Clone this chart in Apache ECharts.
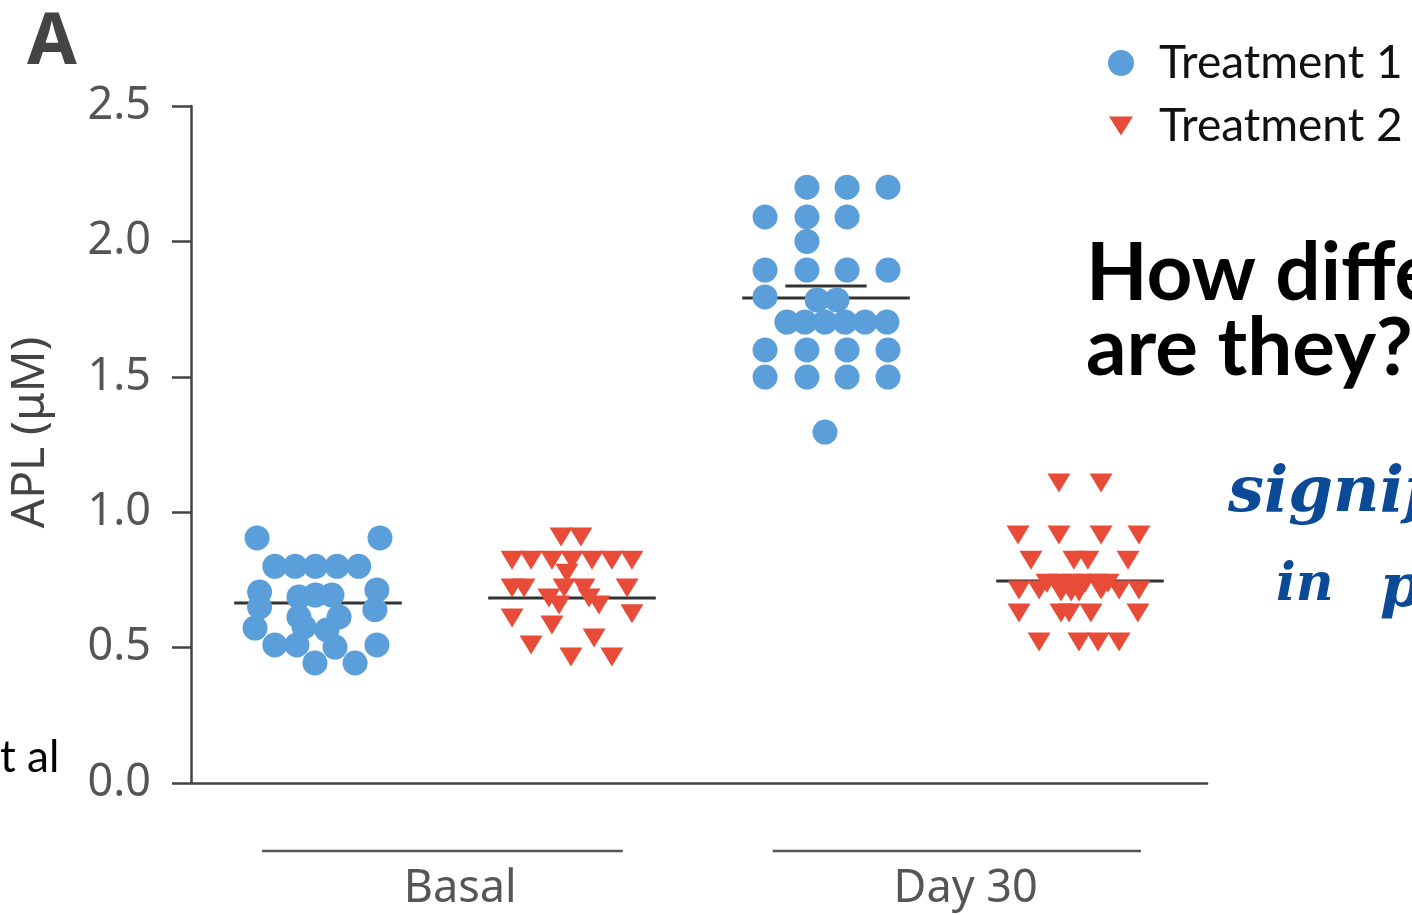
<!DOCTYPE html>
<html><head><meta charset="utf-8">
<script src="https://cdn.jsdelivr.net/npm/echarts@6/dist/echarts.min.js"></script>
<style>html,body{margin:0;padding:0;background:#fff}#c{width:1412px;height:915px}</style>
</head><body><div id="c"></div>
<script>
// ---- data ----
const groupNames = ['Basal', 'Day 30'];
const groupSpans = [[0.78, 2.20, 1.56], [2.79, 4.24, 3.55]];   // [from, to, label centre] on x scale
const xCategories = ['', '', '', ''];                          // tick positions 1..4
const yTickMin = 0, yTickMax = 2.5, yTickStep = 0.5;

const basalT1 = [[0.76,0.905],[1.244,0.905],[0.83,0.80],[0.91,0.80],[0.99,0.80],[1.075,0.80],[1.16,0.80],
  [0.77,0.705],[0.77,0.65],[0.925,0.687],[0.99,0.694],[1.055,0.694],[0.925,0.613],[1.083,0.613],
  [0.945,0.576],[1.035,0.565],[1.232,0.713],[1.224,0.64],[0.752,0.572],[0.83,0.51],[0.917,0.51],
  [1.067,0.502],[1.232,0.51],[0.988,0.443],[1.146,0.443]];
const day30T1 = [[2.925,2.20],[3.083,2.20],[3.244,2.20],[2.76,2.09],[2.925,2.09],[3.083,2.09],[2.925,2.0],
  [2.76,1.894],[2.925,1.894],[3.083,1.894],[3.244,1.894],[2.76,1.795],[2.965,1.784],[3.043,1.784],
  [2.846,1.702],[2.917,1.702],[2.996,1.702],[3.075,1.702],[3.154,1.702],[3.24,1.702],
  [2.76,1.599],[2.925,1.599],[3.083,1.599],[3.244,1.599],[2.76,1.499],[2.925,1.499],[3.083,1.499],[3.244,1.499],
  [2.996,1.296]];
const basalT2 = [[1.957,0.908],[2.035,0.908],[1.764,0.823],[1.839,0.823],[1.921,0.823],[2.0,0.823],[2.079,0.823],
  [2.157,0.823],[2.236,0.823],[1.98,0.775],[1.764,0.72],[1.811,0.72],[1.969,0.72],[2.047,0.72],[2.217,0.72],
  [1.909,0.683],[1.949,0.657],[2.067,0.683],[2.106,0.657],[2.236,0.625],[1.764,0.609],[1.921,0.583],
  [1.839,0.51],[2.087,0.535],[1.996,0.465],[2.157,0.465]];
const day30T2 = [[3.917,1.108],[4.083,1.108],[3.756,0.916],[3.917,0.916],[4.083,0.916],[4.232,0.916],
  [3.807,0.823],[3.976,0.823],[4.031,0.823],[4.189,0.823],
  [3.87,0.738],[3.92,0.738],[3.97,0.738],[4.02,0.738],[4.07,0.738],[4.11,0.738],
  [3.76,0.713],[3.839,0.713],[3.925,0.705],[3.965,0.705],[3.996,0.705],[4.083,0.713],[4.154,0.713],[4.232,0.713],
  [3.76,0.628],[3.925,0.628],[3.957,0.628],[4.043,0.628],[4.228,0.628],
  [3.839,0.521],[3.996,0.521],[4.071,0.521],[4.154,0.521]];
const groupCenters = [1, 2, 3, 4];
const groupMeans = [0.665, 0.683, 1.791, 0.746];
const day30T1Upper = [[3, 1.835]];

// ---- styling ----
const BLUE = '#5B9FDA', RED = '#E84C38', AX = '#444';
const triSymbol = 'path://M0,0L24,0L12,19Z';
const triLegend = 'path://M12,-3.5L12.01,-3.5Z M0,0L24,0L12,19Z M12,22.5L12.01,22.5Z';

const chart = echarts.init(document.getElementById('c'));

function hLine(hw) {
  return function (params, api) {
    const a = api.coord([api.value(0) - hw, api.value(1)]);
    const b = api.coord([api.value(0) + hw, api.value(1)]);
    return { type: 'line', shape: { x1: a[0], y1: a[1], x2: b[0], y2: b[1] },
      style: { stroke: '#333', lineWidth: 3 } };
  };
}

chart.setOption({
  backgroundColor: '#fff',
  animation: false,
  title: { text: 'A', left: 22, top: 2,
    textStyle: { fontSize: 72, fontWeight: 'bold', color: AX, fontFamily: 'Noto Sans' } },
  legend: {
    orient: 'vertical', left: 1103, top: 35, itemWidth: 66, itemHeight: 26, itemGap: 17,
    textStyle: { fontSize: 46, fontFamily: 'Lato', color: '#111' },
    data: [{ name: 'Treatment 1', icon: 'circle' }, { name: 'Treatment 2', icon: triLegend }]
  },
  grid: { left: 191, right: 205, top: 106, bottom: 132, containLabel: false, outerBoundsMode: 'none' },
  xAxis: [
    { type: 'value', min: 0.5, max: 4.5, show: false },
    { type: 'category', data: xCategories, position: 'bottom', boundaryGap: true,
      axisLine: { lineStyle: { color: AX, width: 2.5 } },
      axisTick: { alignWithLabel: true, length: 20, lineStyle: { color: AX, width: 2.5 } },
      axisLabel: { show: false }, splitLine: { show: false } }
  ],
  yAxis: {
    type: 'value', min: yTickMin, max: yTickMax, interval: yTickStep,
    name: 'APL (μM)', nameLocation: 'middle', nameGap: 137,
    nameTextStyle: { fontSize: 46, color: AX, fontFamily: 'Noto Sans', padding: [0, 0, 0, 24] },
    axisLine: { show: true, lineStyle: { color: AX, width: 2.5 } },
    axisTick: { show: true, length: 19, lineStyle: { color: AX, width: 2.5 } },
    axisLabel: { fontSize: 45, color: '#555', margin: 40, fontFamily: 'Noto Sans',
      formatter: v => v.toFixed(1) },
    splitLine: { show: false }
  },
  series: [
    { type: 'custom', xAxisIndex: 0, z: 1, silent: true,
      data: groupCenters.map((c, i) => [c, groupMeans[i]]), renderItem: hLine(0.33) },
    { type: 'custom', xAxisIndex: 0, z: 1, silent: true,
      data: day30T1Upper, renderItem: hLine(0.16) },
    { name: 'Treatment 1', type: 'scatter', xAxisIndex: 0, z: 3, symbol: 'circle', symbolSize: 25,
      itemStyle: { color: BLUE, opacity: 1 }, data: basalT1.concat(day30T1) },
    { name: 'Treatment 2', type: 'scatter', xAxisIndex: 0, z: 3, symbol: triSymbol, symbolSize: [23, 19],
      itemStyle: { color: RED, opacity: 1 }, data: basalT2.concat(day30T2) },
    { type: 'custom', xAxisIndex: 0, clip: false, silent: true,
      data: groupSpans,
      renderItem: function (params, api) {
        const a = api.coord([api.value(0), 0]);
        const b = api.coord([api.value(1), 0]);
        const m = api.coord([api.value(2), 0]);
        return { type: 'group', children: [
          { type: 'line', shape: { x1: a[0], y1: a[1] + 68, x2: b[0], y2: b[1] + 68 },
            style: { stroke: '#555', lineWidth: 2.5 } },
          { type: 'text', x: m[0], y: a[1] + 106,
            style: { text: groupNames[params.dataIndex], fill: '#555', font: '45px "Noto Sans"',
              align: 'center', verticalAlign: 'middle' } }
        ] };
      } }
  ],
  graphic: [
    { type: 'text', left: 1086, top: 234, style: { text: 'How diffe', fill: '#000', font: 'bold 80px Lato' } },
    { type: 'text', left: 1086, top: 309, style: { text: 'are they?', fill: '#000', font: 'bold 80px Lato' } },
    { type: 'text', left: 0, top: 736, style: { text: 't al', fill: '#000', font: '44px Lato' } },
    { type: 'text', left: 1228, top: 462, style: { text: 'signif', fill: '#0B4A96', font: 'italic bold 64px "DejaVu Serif"' } },
    { type: 'text', left: 1276, top: 560, style: { text: 'in', fill: '#0B4A96', font: 'italic bold 52px "DejaVu Serif"' } },
    { type: 'text', left: 1380, top: 560, style: { text: 'p', fill: '#0B4A96', font: 'italic bold 60px "DejaVu Serif"' } }
  ]
});
</script></body></html>
